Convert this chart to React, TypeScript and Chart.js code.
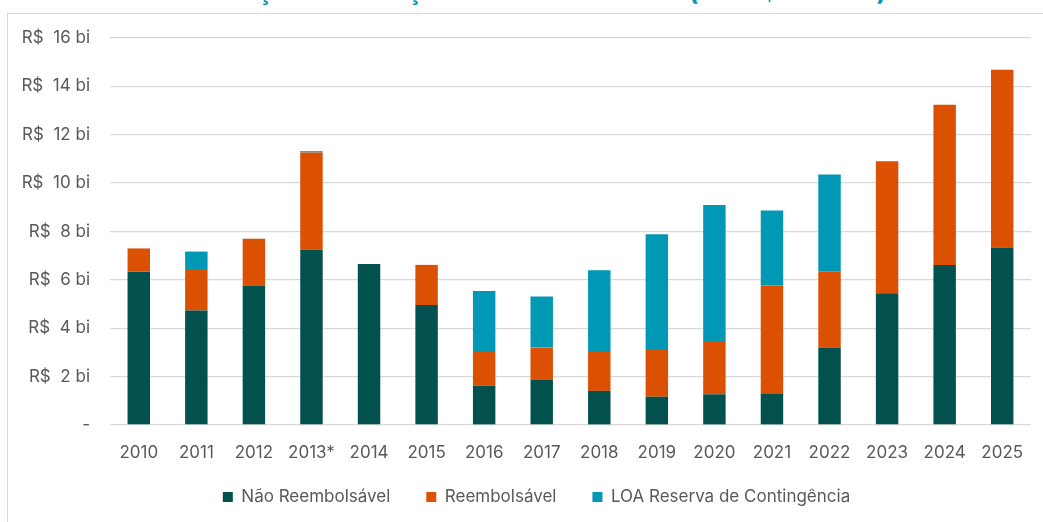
import React, { useEffect, useRef } from "react";
import { Chart, registerables } from "chart.js";

Chart.register(...registerables);

const categories = ["2010", "2011", "2012", "2013*", "2014", "2015", "2016", "2017", "2018", "2019", "2020", "2021", "2022", "2023", "2024", "2025"];
const naoReembolsavel = [6.34, 4.73, 5.77, 7.25, 6.66, 4.96, 1.63, 1.86, 1.41, 1.17, 1.27, 1.31, 3.2, 5.45, 6.62, 7.34];
const reembolsavel = [0.96, 1.72, 1.93, 4.02, 0, 1.66, 1.39, 1.34, 1.61, 1.97, 2.16, 4.46, 3.16, 5.45, 6.62, 7.35];
const loaReserva = [0, 0.72, 0, 0.05, 0, 0, 2.52, 2.11, 3.38, 4.75, 5.67, 3.1, 4.0, 0, 0, 0];
const seriesNames = ["Não Reembolsável", "Reembolsável", "LOA Reserva de Contingência"];
const yTicks = [0, 2, 4, 6, 8, 10, 12, 14, 16];

const COLORS = ["#03514F", "#DC5003", "#0198B6"];
const FONT = "Inter, 'Noto Sans', sans-serif";
const TEXT = "#595959";

const legendPlacement = {
  id: "legendPlacement",
  afterLayout(chart: any) {
    const l = chart.legend;
    if (!l) return;
    const h = l.height;
    l.top = 452.5;
    l.bottom = l.top + h;
    l.left = 42;
    l.right = 1031;
    l.width = l.right - l.left;
  },
};

export default function App() {
  const ref = useRef<HTMLCanvasElement | null>(null);

  useEffect(() => {
    if (!ref.current) return;
    const chart = new Chart(ref.current, {
      type: "bar",
      data: {
        labels: categories,
        datasets: [naoReembolsavel, reembolsavel, loaReserva].map((d, i) => ({
          label: seriesNames[i],
          data: d,
          backgroundColor: COLORS[i],
          borderWidth: 0,
          stack: "s",
          categoryPercentage: 1,
          barPercentage: 0.39,
        })),
      },
      plugins: [legendPlacement],
      options: {
        animation: false,
        responsive: true,
        maintainAspectRatio: false,
        layout: { padding: { left: 0, right: 12, top: 38, bottom: 0 } },
        plugins: {
          tooltip: { enabled: false },
          legend: {
            position: "bottom",
            maxHeight: 57,
            labels: {
              font: { family: FONT, size: 17 },
              color: TEXT,
              boxWidth: 10,
              boxHeight: 10,
              padding: 36,
            },
          },
        },
        scales: {
          x: {
            stacked: true,
            grid: { display: false, drawTicks: false },
            border: { display: false },
            ticks: { font: { family: FONT, size: 17 }, color: TEXT, padding: 18, maxRotation: 0, autoSkip: false },
            afterFit: (s: any) => {
              s.height = 40;
            },
          },
          y: {
            stacked: true,
            min: 0,
            max: 16,
            afterBuildTicks: (s: any) => {
              s.ticks = yTicks.map((v) => ({ value: v }));
            },
            grid: { color: "#D9D9D9", lineWidth: 1.3, drawTicks: false },
            border: { display: false },
            ticks: {
              font: { family: FONT, size: 17 },
              color: TEXT,
              padding: 20,
              callback: (v: any) => (Number(v) === 0 ? "-" : "R$  " + v + " bi"),
            },
            afterFit: (s: any) => {
              s.width = 110;
            },
          },
        },
      },
    });
    return () => chart.destroy();
  }, []);

  return (
    <div style={{ position: "fixed", left: 0, top: 0, width: 1043, height: 522, background: "#fff", overflow: "hidden" }}>
      <div
        style={{
          position: "absolute",
          left: 15,
          width: 1043,
          top: -22,
          lineHeight: "26px",
          fontSize: 26,
          fontWeight: 700,
          fontFamily: FONT,
          color: "#0198B6",
          textAlign: "center",
          whiteSpace: "nowrap",
        }}
      >
        Evolução da Dotação Efetiva do FNDCT (em R$ bilhões)
      </div>
      <div
        style={{
          position: "absolute",
          left: 7,
          top: 13,
          width: 1100,
          height: 600,
          borderLeft: "1.5px solid #D9D9D9",
          borderTop: "1.5px solid #D9D9D9",
        }}
      />
      <div style={{ position: "absolute", left: 0, top: 0, width: 1043, height: 522 }}>
        <canvas ref={ref} />
      </div>
    </div>
  );
}
